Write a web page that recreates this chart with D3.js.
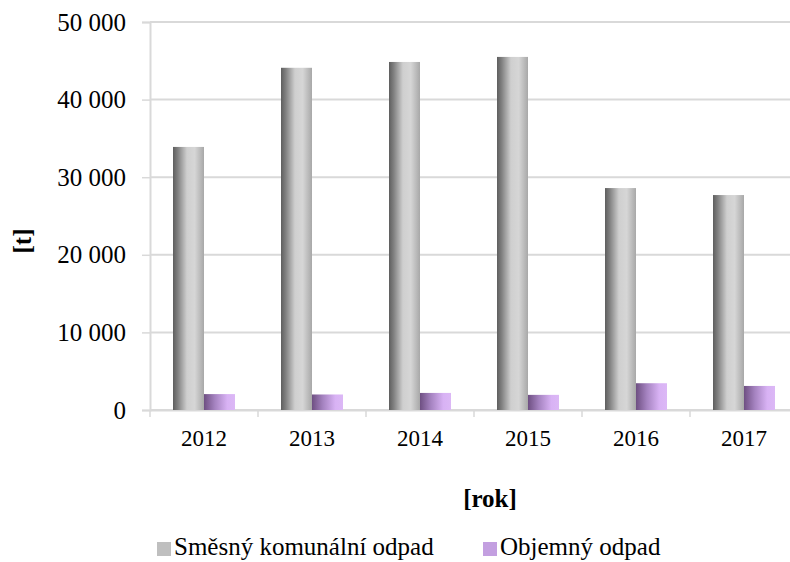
<!DOCTYPE html>
<html lang="cs">
  <head>
    <title>odpad</title>
    <meta charset="utf-8">
    <style>
      body { margin: 0; background: #fff; }
      text { font-family: "Liberation Serif", "Times New Roman", serif; fill: #000; }
    </style>
  </head>
  <body>
<svg width="790" height="562"></svg>
<script src="https://d3js.org/d3.v7.min.js"></script>
<script>

var years = ["2012", "2013", "2014", "2015", "2016", "2017"];
var smesny = [33900, 44100, 44850, 45500, 28600, 27700];
var objemny = [2050, 2000, 2200, 1950, 3450, 3100];
var seriesNames = ["Směsný komunální odpad", "Objemný odpad"];
var yTicks = [0, 10000, 20000, 30000, 40000, 50000];

var svg = d3.select("svg"),
    plotLeft = 150, plotRight = 798, plotTop = 22, plotBottom = 410;

var x = d3.scaleBand().domain(years).range([plotLeft, plotRight]);
var y = d3.scaleLinear().domain([0, 50000]).range([plotBottom, plotTop]);
var fmt = function(v) { return d3.format(",")(v).replace(/,/g, " "); };

// gradients for the cylinder look
var defs = svg.append("defs");
function grad(id, stops) {
  var g = defs.append("linearGradient").attr("id", id).attr("x1", 0).attr("x2", 1).attr("y1", 0).attr("y2", 0);
  stops.forEach(function(s) { g.append("stop").attr("offset", s[0]).attr("stop-color", s[1]); });
}
grad("gGrey", [[0, "#5e5e5e"], [0.15, "#808080"], [0.45, "#cfcfcf"], [0.7, "#d6d6d6"], [1, "#a8a8a8"]]);
grad("gPurple", [[0, "#6e4f82"], [0.35, "#a583c0"], [0.75, "#d8b2f4"], [1, "#dcb8f6"]]);

// gridlines
svg.append("g").selectAll("line").data(yTicks).enter().append("line")
    .attr("x1", plotLeft).attr("x2", plotRight)
    .attr("y1", function(d) { return y(d); }).attr("y2", function(d) { return y(d); })
    .attr("stroke", "#d9d9d9").attr("stroke-width", 2);

// y axis
var yAxis = svg.append("g").attr("transform", "translate(" + plotLeft + ",0)")
    .call(d3.axisLeft(y).tickValues(yTicks).tickFormat(fmt).tickSize(8).tickPadding(16));
yAxis.select(".domain").attr("stroke", "#d9d9d9").attr("stroke-width", 2);
yAxis.selectAll(".tick line").attr("stroke", "#d9d9d9").attr("stroke-width", 1.5);
yAxis.selectAll("text").style("font-size", "25px").attr("fill", "#000");

// x axis
var xAxis = svg.append("g").attr("transform", "translate(0," + plotBottom + ")")
    .call(d3.axisBottom(x).tickSize(0));
xAxis.select(".domain").attr("stroke", "#d9d9d9").attr("stroke-width", 2);
xAxis.selectAll("text").attr("dy", null).attr("y", 36).style("font-size", "23px").attr("fill", "#000");
// category boundary ticks
svg.append("g").selectAll("line").data(years.concat(["end"])).enter().append("line")
    .attr("x1", function(d, i) { return plotLeft + i * x.step(); })
    .attr("x2", function(d, i) { return plotLeft + i * x.step(); })
    .attr("y1", plotBottom).attr("y2", plotBottom + 7)
    .attr("stroke", "#d9d9d9").attr("stroke-width", 1.5);

// bars
var bw = 31, off = (x.bandwidth() - 2 * bw) / 2;
svg.append("g").selectAll("rect").data(smesny).enter().append("rect")
    .attr("x", function(d, i) { return x(years[i]) + off; })
    .attr("y", function(d) { return y(d); })
    .attr("width", bw)
    .attr("height", function(d) { return plotBottom - y(d); })
    .attr("fill", "url(#gGrey)");
svg.append("g").selectAll("rect").data(objemny).enter().append("rect")
    .attr("x", function(d, i) { return x(years[i]) + off + bw; })
    .attr("y", function(d) { return y(d); })
    .attr("width", bw)
    .attr("height", function(d) { return plotBottom - y(d); })
    .attr("fill", "url(#gPurple)");

// axis titles
svg.append("text").attr("transform", "translate(31,241) rotate(-90)")
    .attr("text-anchor", "middle").style("font-size", "25px").style("font-weight", "bold").text("[t]");
svg.append("text").attr("x", 490).attr("y", 507)
    .attr("text-anchor", "middle").style("font-size", "25px").style("font-weight", "bold").text("[rok]");

// legend
var legendX = [157, 483], legendColors = ["#bfbfbf", "#c39fe0"];
var lg = svg.append("g").selectAll("g").data(seriesNames).enter().append("g")
    .attr("transform", function(d, i) { return "translate(" + legendX[i] + ",542)"; });
lg.append("rect").attr("width", 14).attr("height", 14)
    .attr("fill", function(d, i) { return legendColors[i]; });
lg.append("text").attr("x", 17).attr("y", 13).style("font-size", "25px").text(function(d) { return d; });

</script>
  </body>
</html>
